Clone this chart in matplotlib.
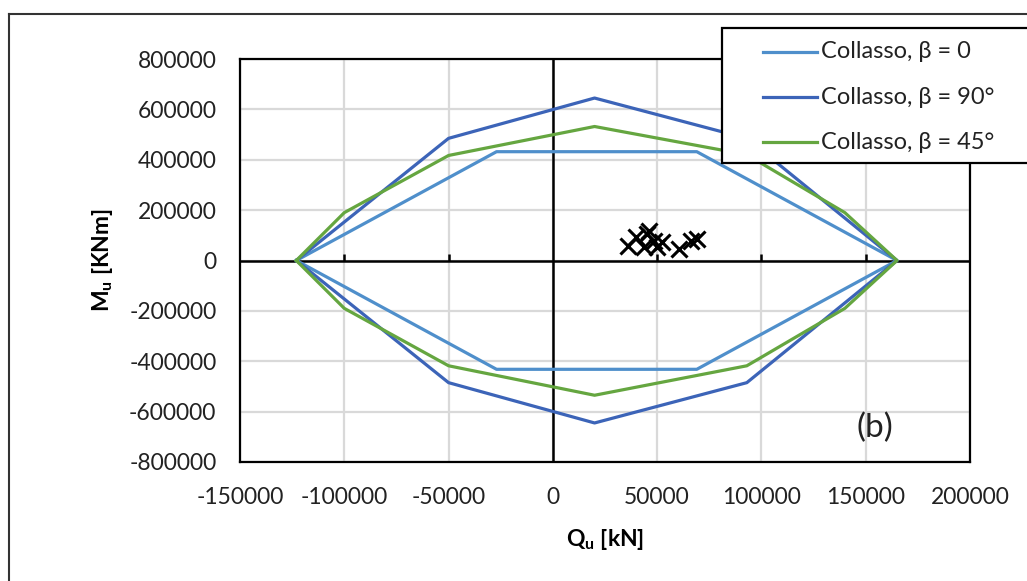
import matplotlib
matplotlib.use("Agg")
import matplotlib.pyplot as plt
from matplotlib.lines import Line2D
from matplotlib.patches import Rectangle

plt.rcParams['font.family'] = ['Lato', 'DejaVu Sans']
plt.rcParams['axes.unicode_minus'] = False
plt.rcParams['mathtext.fontset'] = 'custom'
plt.rcParams['mathtext.rm'] = 'Lato'
plt.rcParams['mathtext.bf'] = 'Lato:bold'
plt.rcParams['mathtext.it'] = 'Lato:italic'

# Interaction domains (shear Q [kN], moment M [kNm])
q_beta0 = [-123000, -27000, 69000, 165000, 69000, -27000, -123000]
m_beta0 = [0, 432000, 432000, 0, -432000, -432000, 0]

q_beta90 = [-123000, -50000, 20000, 93000, 165000, 93000, 20000, -50000, -123000]
m_beta90 = [0, 485000, 645000, 485000, 0, -485000, -645000, -485000, 0]

q_beta45 = [-123000, -100000, -50000, 20000, 93000, 140000, 165000,
            140000, 93000, 20000, -50000, -100000, -123000]
m_beta45 = [0, 190000, 417000, 532000, 420000, 190000, 0,
            -190000, -418000, -535000, -418000, -190000, 0]

# Demand points
q_demand = [35800, 39800, 46100, 43700, 48500, 50000, 52500, 60500, 66100, 69300, 45300]
m_demand = [59500, 92600, 119000, 53000, 79000, 53000, 72600, 46000, 79000, 86000, 106000]

x_ticks = [-150000, -100000, -50000, 0, 50000, 100000, 150000, 200000]
y_ticks = [-800000, -600000, -400000, -200000, 0, 200000, 400000, 600000, 800000]

labels = ['Collasso, β = 0', 'Collasso, β = 90°', 'Collasso, β = 45°']
colors = ['#4F8FCB', '#3C64B8', '#65A640']

W, H = 1027, 581
FS = 16.5
fig = plt.figure(figsize=(W / 100, H / 100), dpi=100)
fig.patch.set_facecolor('white')

# outer chart frame
fig.add_artist(Line2D([9 / W, 9 / W], [0, 1 - 14 / H], transform=fig.transFigure,
                      color='#333333', lw=1.5))
fig.add_artist(Line2D([9 / W, 1], [1 - 14 / H, 1 - 14 / H], transform=fig.transFigure,
                      color='#333333', lw=1.5))

ax = fig.add_axes([240 / W, 1 - 462 / H, 730 / W, 403 / H])
ax.set_xlim(x_ticks[0], x_ticks[-1])
ax.set_ylim(y_ticks[0], y_ticks[-1])
ax.set_xticks(x_ticks)
ax.set_yticks(y_ticks)
ax.set_xticklabels([str(v) for v in x_ticks])
ax.set_yticklabels([str(v) for v in y_ticks])
ax.tick_params(length=0, labelsize=FS, colors='#222222')
ax.tick_params(axis='x', pad=18)
ax.tick_params(axis='y', pad=17)
ax.grid(True, color='#D9D9D9', lw=1.6, zorder=0)
ax.set_axisbelow(True)
for s in ax.spines.values():
    s.set_color('black')
    s.set_linewidth(1.6)

# zero axes with upward tick marks on the horizontal one
ax.axhline(0, color='black', lw=1.8, zorder=2)
ax.axvline(0, color='black', lw=1.8, zorder=2)
tick_h = (y_ticks[-1] - y_ticks[0]) * 7 / 403
ax.vlines([v for v in x_ticks[1:-1] if v != 0], 0, tick_h, color='black', lw=1.8, zorder=2)

ax.plot(q_beta0, m_beta0, color=colors[0], lw=2.3, zorder=3)
ax.plot(q_beta90, m_beta90, color=colors[1], lw=2.3, zorder=3)
ax.plot(q_beta45, m_beta45, color=colors[2], lw=2.3, zorder=3)
ax.plot(q_demand, m_demand, linestyle='none', marker='x', markersize=12,
        markeredgewidth=2.2, color='black', zorder=4)

ax.text(154500, -665000, '(b)', fontsize=24, ha='center', va='center', color='#222222')

ax.set_xlabel(r'$\mathbf{Q}_\mathbf{u}$ [kN]', fontsize=FS, fontweight='bold', labelpad=14)
ax.set_ylabel(r'$\mathbf{M}_\mathbf{u}$ [KNm]', fontsize=FS, fontweight='bold', labelpad=10)

# legend box
fig.add_artist(Rectangle((722 / W, 1 - 163 / H), 320 / W, 135 / H, transform=fig.transFigure,
                         facecolor='white', edgecolor='black', lw=1.6, zorder=10))
rows = [52, 97, 142]
for lab, col, yy in zip(labels, colors, rows):
    fig.add_artist(Line2D([763 / W, 817 / W], [1 - yy / H, 1 - yy / H], transform=fig.transFigure,
                          color=col, lw=2.3, zorder=11))
    fig.text(821 / W, 1 - yy / H, lab, fontsize=FS + 0.5, va='center', ha='left',
             color='#222222', zorder=11)

fig.savefig('out.png', dpi=100)
